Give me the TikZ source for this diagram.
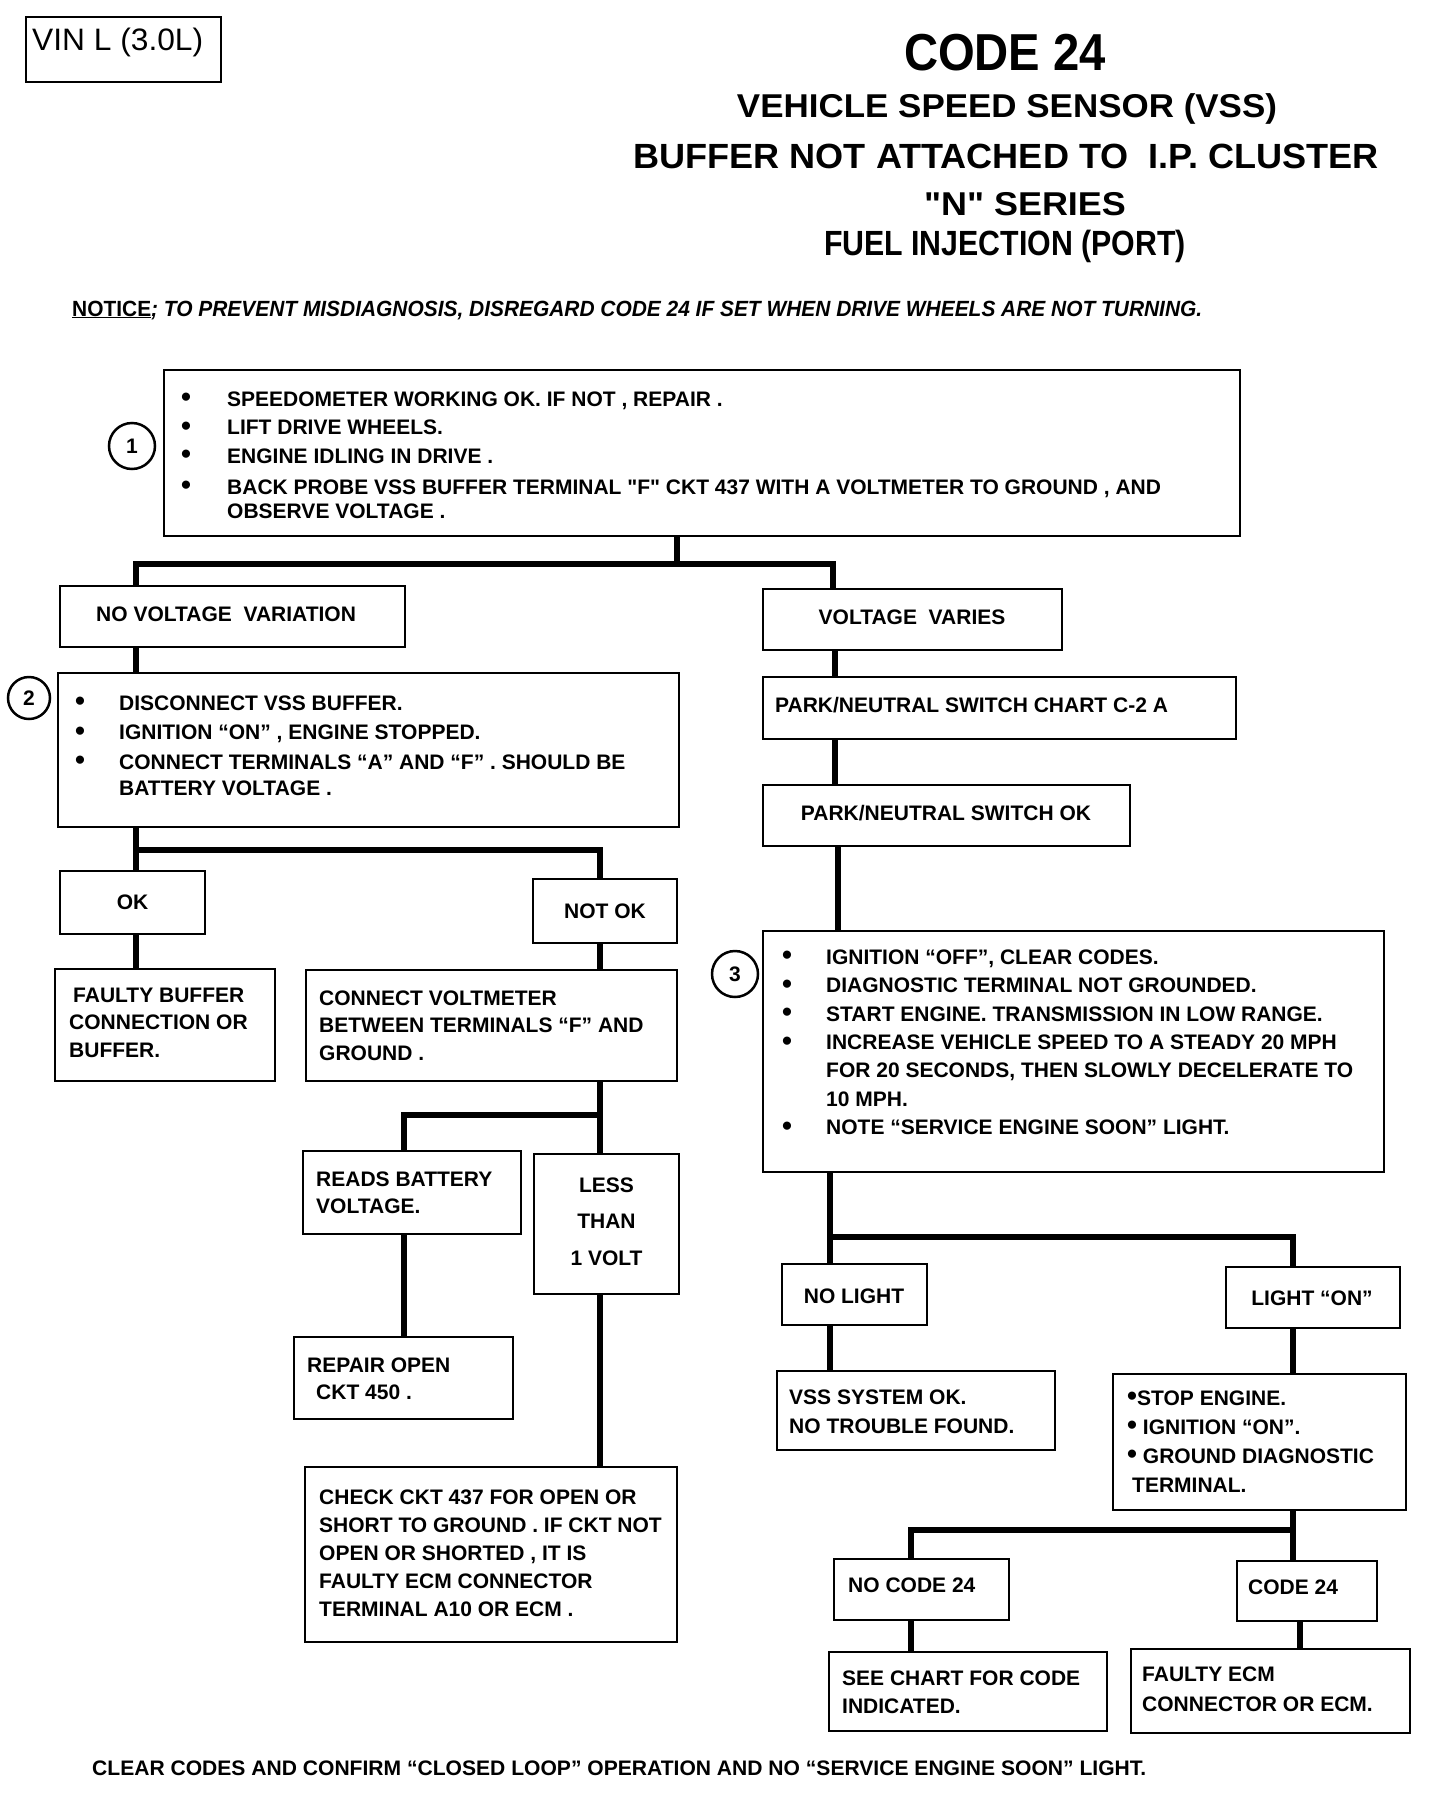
\documentclass[tikz,border=0pt]{standalone}
\usepackage{fontspec}
\setmainfont{Liberation Sans}
\usepackage{graphicx}
\newcommand\bdot{\raisebox{-0.6pt}{\scalebox{1.35}{•}}}
\newcommand\bul[1][44pt]{\makebox[#1][l]{\bdot}}
\newcommand\mkbox[5]{\node[box, minimum width={(#4)-(#2)}, minimum height={(#5)-(#3)}] (#1) at ({((#2)+(#4))/2},{((#3)+(#5))/2}) {};}
\newcommand\fitw[3]{\resizebox{#1}{\height}{\fontsize{#2}{#2}\selectfont\bfseries #3}}
\tikzset{
  box/.style={draw, line width=2.5pt, inner sep=0pt, rectangle},
  conn/.style={line width=6.5pt, line cap=butt, line join=miter},
  txt/.style={inner sep=0pt, align=left, font={\fontsize{21}{28}\selectfont\bfseries}},
  ctxt/.style={inner sep=0pt, align=center, font={\fontsize{21}{28}\selectfont\bfseries}},
  num/.style={draw, circle, line width=2.5pt, inner sep=0pt, font={\fontsize{21}{21}\selectfont\bfseries}},
  ttl/.style={inner sep=0pt, anchor=base},
}
\begin{document}
\begin{tikzpicture}[x=1pt,y=-1pt]
\useasboundingbox (0,0) rectangle (1440,1796);
\fill[white] (0,0) rectangle (1440,1796);

% header
\mkbox{vin}{26}{17}{221}{82}
\node[inner sep=0pt, anchor=base west] (vint) at (32,50) {\resizebox{171pt}{\height}{\fontsize{31}{31}\selectfont VIN L (3.0L)}};
\node[ttl] (t1) at (1005,70) {\fitw{202pt}{52}{CODE 24}};
\node[ttl] (t2) at (1007,117) {\fitw{540pt}{33}{VEHICLE SPEED SENSOR (VSS)}};
\node[ttl] (t3) at (1006,168) {\fitw{745pt}{35}{BUFFER NOT ATTACHED TO\ \ I.P. CLUSTER}};
\node[ttl] (t4) at (1025,215) {\fitw{202pt}{33}{\textquotedbl N\textquotedbl{} SERIES}};
\node[ttl] (t5) at (1005,255) {\fitw{362pt}{35}{FUEL INJECTION (PORT)}};
\node[inner sep=0pt, anchor=base west] (notice) at (72,316) {\fitw{1130pt}{22}{\underline{NOTICE}\textit{; TO PREVENT MISDIAGNOSIS, DISREGARD CODE 24 IF SET WHEN DRIVE WHEELS ARE NOT TURNING.}}};

% boxes
\mkbox{b1}{164}{370}{1240}{536}
\mkbox{nvv}{60}{586}{405}{647}
\mkbox{vv}{763}{589}{1062}{650}
\mkbox{b2}{58}{673}{679}{827}
\mkbox{pnc}{763}{677}{1236}{739}
\mkbox{pnok}{763}{785}{1130}{846}
\mkbox{ok}{60}{871}{205}{934}
\mkbox{notok}{533}{879}{677}{943}
\mkbox{fb}{55}{969}{275}{1081}
\mkbox{cv}{306}{970}{677}{1081}
\mkbox{reads}{303}{1151}{521}{1234}
\mkbox{less}{534}{1154}{679}{1294}
\mkbox{repair}{294}{1337}{513}{1419}
\mkbox{check}{305}{1467}{677}{1642}
\mkbox{b3}{763}{931}{1384}{1172}
\mkbox{nolight}{782}{1264}{927}{1325}
\mkbox{lighton}{1226}{1267}{1400}{1328}
\mkbox{vss}{777}{1371}{1055}{1450}
\mkbox{stop}{1113}{1374}{1406}{1510}
\mkbox{nocode}{834}{1559}{1009}{1620}
\mkbox{code}{1237}{1561}{1377}{1621}
\mkbox{see}{829}{1652}{1107}{1731}
\mkbox{fecm}{1131}{1649}{1410}{1733}

% circled numbers
\node[num, minimum size=46pt] (c1) at (132,446) {1};
\node[num, minimum size=42pt] (c2) at (29,698) {2};
\node[num, minimum size=46pt] (c3) at (735,974) {3};

% texts
\node[txt, anchor=north west, font={\fontsize{21}{24.5}\selectfont\bfseries}] (b1t) at (181,391.5) {%
\bul[46pt]SPEEDOMETER WORKING OK. IF NOT , REPAIR .\\[4pt]
\bul[46pt]LIFT DRIVE WHEELS.\\[4pt]
\bul[46pt]ENGINE IDLING IN DRIVE .\\[6.5pt]
\bul[46pt]BACK PROBE VSS BUFFER TERMINAL \textquotedbl F\textquotedbl{} CKT 437 WITH A VOLTMETER TO GROUND , AND\\
\hspace*{46pt}OBSERVE VOLTAGE .};
\node[txt, anchor=west] (nvvt) at (96,614) {NO VOLTAGE\ \ VARIATION};
\node[ctxt] (vvt) at (912,617) {VOLTAGE\ \ VARIES};
\node[txt, anchor=north west, font={\fontsize{21}{26}\selectfont\bfseries}] (b2t) at (75,695.5) {%
\bul DISCONNECT VSS BUFFER.\\[3.5pt]
\bul IGNITION “ON” , ENGINE STOPPED.\\[3.5pt]
\bul CONNECT TERMINALS “A” AND “F” . SHOULD BE\\
\hspace*{44pt}BATTERY VOLTAGE .};
\node[txt, anchor=west] (pnct) at (775,705) {PARK/NEUTRAL SWITCH CHART C-2 A};
\node[ctxt] (pnokt) at (946,813) {PARK/NEUTRAL SWITCH OK};
\node[ctxt] (okt) at (132.5,902) {OK};
\node[ctxt] (notokt) at (605,911) {NOT OK};
\node[txt, anchor=north west, font={\fontsize{21}{27.5}\selectfont\bfseries}] (fbt) at (69,987.5) {%
\hspace*{4pt}FAULTY BUFFER\\ CONNECTION OR\\ BUFFER.};
\node[txt, anchor=north west, font={\fontsize{21}{27.5}\selectfont\bfseries}] (cvt) at (319,990.5) {%
CONNECT VOLTMETER\\ BETWEEN TERMINALS “F” AND\\ GROUND .};
\node[txt, anchor=north west, font={\fontsize{21}{27}\selectfont\bfseries}] (readst) at (316,1171.5) {%
READS BATTERY\\ VOLTAGE.};
\node[ctxt, font={\fontsize{21}{36.5}\selectfont\bfseries}] (lesst) at (606.5,1221.5) {LESS\\ THAN\\ 1 VOLT};
\node[txt, anchor=north west, font={\fontsize{21}{27}\selectfont\bfseries}] (repairt) at (307,1357.5) {%
REPAIR OPEN\\ \hspace*{9pt}CKT 450 .};
\node[txt, anchor=north west, font={\fontsize{21}{28}\selectfont\bfseries}] (checkt) at (319,1489.5) {%
CHECK CKT 437 FOR OPEN OR\\ SHORT TO GROUND . IF CKT NOT\\ OPEN OR SHORTED , IT IS\\ FAULTY ECM CONNECTOR\\ TERMINAL A10 OR ECM .};
\node[txt, anchor=north west, font={\fontsize{21}{28.4}\selectfont\bfseries}] (b3t) at (782,949.5) {%
\bul IGNITION “OFF”, CLEAR CODES.\\
\bul DIAGNOSTIC TERMINAL NOT GROUNDED.\\
\bul START ENGINE. TRANSMISSION IN LOW RANGE.\\
\bul INCREASE VEHICLE SPEED TO A STEADY 20 MPH\\
\hspace*{44pt}FOR 20 SECONDS, THEN SLOWLY DECELERATE TO\\
\hspace*{44pt}10 MPH.\\
\bul NOTE “SERVICE ENGINE SOON” LIGHT.};
\node[ctxt] (nolightt) at (854,1296) {NO LIGHT};
\node[ctxt] (lightont) at (1312,1298) {LIGHT “ON”};
\node[txt, anchor=north west, font={\fontsize{21}{29}\selectfont\bfseries}] (vsst) at (789,1389.5) {%
VSS SYSTEM OK.\\ NO TROUBLE FOUND.};
\node[txt, anchor=north west, font={\fontsize{21}{29}\selectfont\bfseries}] (stopt) at (1127,1390.5) {%
\bdot STOP ENGINE.\\ \bdot{} IGNITION “ON”.\\ \bdot{} GROUND DIAGNOSTIC\\ \hspace*{5pt}TERMINAL.};
\node[txt, anchor=west] (nocodet) at (848,1585) {NO CODE 24};
\node[txt, anchor=west] (codet) at (1248,1587) {CODE 24};
\node[txt, anchor=north west, font={\fontsize{21}{28}\selectfont\bfseries}] (seet) at (842,1670.5) {%
SEE CHART FOR CODE\\ INDICATED.};
\node[txt, anchor=north west, font={\fontsize{21}{30}\selectfont\bfseries}] (fecmt) at (1142,1666.5) {%
FAULTY ECM\\ CONNECTOR OR ECM.};
\node[inner sep=0pt, anchor=base west] (foot) at (92,1775.5) {\fitw{1054pt}{21}{CLEAR CODES AND CONFIRM “CLOSED LOOP” OPERATION AND NO “SERVICE ENGINE SOON” LIGHT.}};

% connectors
\coordinate (j1) at (677,564);
\coordinate (j1l) at (136,564);
\coordinate (j1r) at (833,564);
\draw[conn] (b1.south -| j1) -- (j1);
\draw[conn] (nvv.north -| j1l) -- (j1l) -- (j1r) -- (vv.north -| j1r);
\draw[conn] (nvv.south -| j1l) -- (b2.north -| j1l);
\coordinate (j2l) at (136,850);
\coordinate (j2r) at (600,850);
\draw[conn] (b2.south -| j2l) -- (ok.north -| j2l);
\draw[conn] (j2l) -- (j2r) -- (notok.north -| j2r);
\draw[conn] (ok.south -| j2l) -- (fb.north -| j2l);
\draw[conn] (notok.south -| j2r) -- (cv.north -| j2r);
\coordinate (j3l) at (404,1115);
\coordinate (j3r) at (600,1115);
\draw[conn] (cv.south -| j3r) -- (less.north -| j3r);
\draw[conn] (j3r) -- (j3l) -- (reads.north -| j3l);
\draw[conn] (reads.south -| j3l) -- (repair.north -| j3l);
\draw[conn] (less.south -| j3r) -- (check.north -| j3r);
\coordinate (xv) at (835,0);
\coordinate (xv2) at (838,0);
\draw[conn] (vv.south -| xv) -- (pnc.north -| xv);
\draw[conn] (pnc.south -| xv) -- (pnok.north -| xv);
\draw[conn] (pnok.south -| xv2) -- (b3.north -| xv2);
\coordinate (j4l) at (830,1237);
\coordinate (j4r) at (1293,1237);
\draw[conn] (b3.south -| j4l) -- (nolight.north -| j4l);
\draw[conn] (j4l) -- (j4r) -- (lighton.north -| j4r);
\draw[conn] (nolight.south -| j4l) -- (vss.north -| j4l);
\draw[conn] (lighton.south -| j4r) -- (stop.north -| j4r);
\coordinate (j5l) at (911,1530);
\coordinate (j5r) at (1293,1530);
\draw[conn] (stop.south -| j5r) -- (code.north -| j5r);
\draw[conn] (j5r) -- (j5l) -- (nocode.north -| j5l);
\draw[conn] (nocode.south -| j5l) -- (see.north -| j5l);
\coordinate (xc) at (1300,0);
\draw[conn] (code.south -| xc) -- (fecm.north -| xc);
\end{tikzpicture}
\end{document}
